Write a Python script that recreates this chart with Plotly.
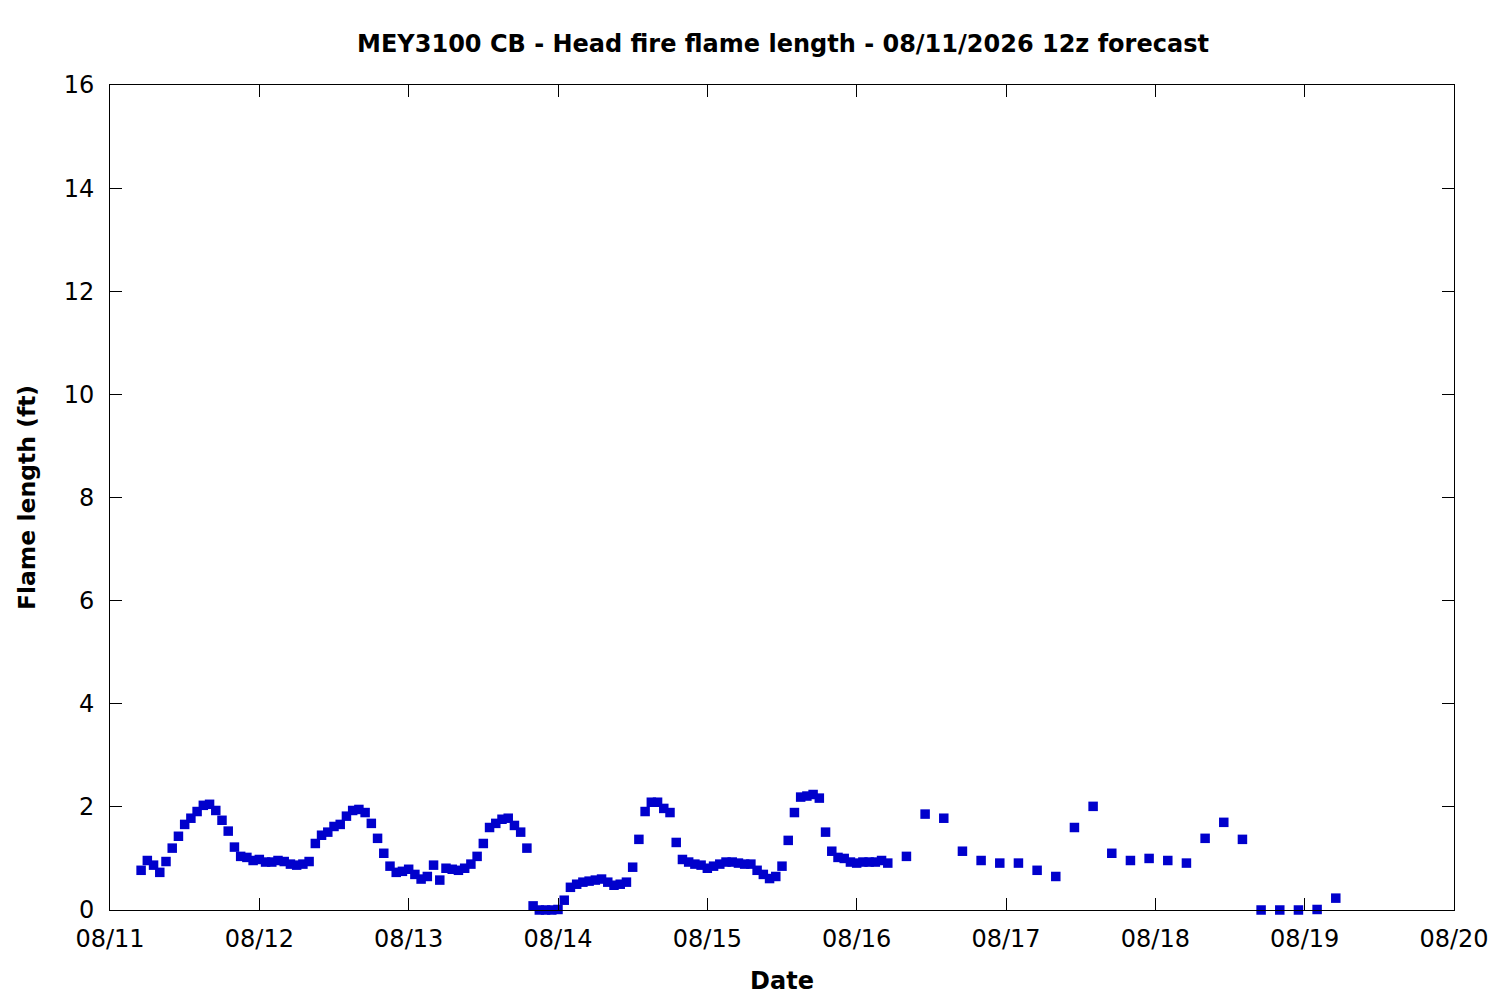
import pandas as pd
import plotly.graph_objects as go

# Hourly forecast values (ft), 08/11 05:00 -> 08/16 05:00
start_hourly = "2026-08-11 05:00"
flame_hourly = [
    0.77, 0.96, 0.87, 0.73, 0.94, 1.20, 1.43, 1.66, 1.78, 1.91, 2.03, 2.05, 1.93, 1.74,
    1.53, 1.22, 1.04, 1.02, 0.96, 0.98, 0.93, 0.93, 0.96, 0.94, 0.89, 0.87, 0.89, 0.94,
    1.29, 1.45, 1.51, 1.62, 1.66, 1.82, 1.93, 1.95, 1.89, 1.68, 1.39, 1.10, 0.85, 0.73,
    0.75, 0.79, 0.69, 0.60, 0.65, 0.87, 0.58, 0.81, 0.79, 0.77, 0.81, 0.89, 1.04, 1.29,
    1.60, 1.68, 1.76, 1.78, 1.64, 1.51, 1.20, 0.08, 0.00, 0.00, 0.00, 0.01, 0.19, 0.44,
    0.50, 0.54, 0.56, 0.58, 0.60, 0.54, 0.48, 0.50, 0.54, 0.83, 1.37, 1.91, 2.09, 2.09,
    1.97, 1.89, 1.31, 0.98, 0.93, 0.89, 0.87, 0.81, 0.85, 0.89, 0.93, 0.93, 0.91, 0.89,
    0.89, 0.77, 0.69, 0.61, 0.65, 0.85, 1.35, 1.89, 2.19, 2.21, 2.24, 2.17, 1.51, 1.14,
    1.02, 1.00, 0.93, 0.91, 0.93, 0.93, 0.93, 0.96, 0.91,
]

# 3-hourly values (ft), 08/16 08:00 -> 08/19 05:00
start_3h = "2026-08-16 08:00"
flame_3h = [
    1.04, 1.86, 1.78, 1.14, 0.96, 0.91, 0.91, 0.77, 0.65, 1.60, 2.01, 1.10,
    0.96, 1.00, 0.96, 0.91, 1.39, 1.70, 1.37, 0.00, 0.00, 0.00, 0.01, 0.23,
]

date_ticks = ["2026-08-%02d" % d for d in range(11, 21)]
date_labels = ["08/%02d" % d for d in range(11, 21)]

times = list(pd.date_range(start_hourly, periods=len(flame_hourly), freq="h")) + \
    list(pd.date_range(start_3h, periods=len(flame_3h), freq="3h"))
flame = flame_hourly + flame_3h

font_family = "DejaVu Sans"

fig = go.Figure()
fig.add_trace(go.Scatter(
    x=times, y=flame, mode="markers",
    marker=dict(symbol="square", size=9.5, color="#0000cc"),
    cliponaxis=False, showlegend=False,
))

# page body adds ~8px offset, so margins are shifted to compensate
fig.update_layout(
    width=1500, height=1000,
    margin=dict(l=102, r=54, t=77, b=98),
    plot_bgcolor="white", paper_bgcolor="white",
    font=dict(family=font_family, size=24, color="black"),
    title=dict(
        text="<b>MEY3100 CB - Head fire flame length - 08/11/2026 12z forecast</b>",
        x=775 / 1500, xanchor="center", y=1 - 36 / 1000, yanchor="middle",
        font=dict(size=24),
    ),
    xaxis=dict(
        type="date", range=["2026-08-11", "2026-08-20"],
        tickvals=date_ticks, ticktext=date_labels,
        ticks="inside", ticklen=12, tickcolor="black",
        ticklabelstandoff=7,
        showline=True, linecolor="black", linewidth=1, mirror="ticks",
        showgrid=False, zeroline=False,
        title=dict(text="<b>Date</b>", standoff=20, font=dict(size=24)),
    ),
    yaxis=dict(
        range=[0, 16], dtick=2, tick0=0,
        ticks="inside", ticklen=12, tickcolor="black",
        ticklabelstandoff=10,
        showline=True, linecolor="black", linewidth=1, mirror="ticks",
        showgrid=False, zeroline=False,
        title=dict(text="<b>Flame length (ft)</b>", standoff=21, font=dict(size=23.5)),
    ),
)

fig.write_html("out.html")
